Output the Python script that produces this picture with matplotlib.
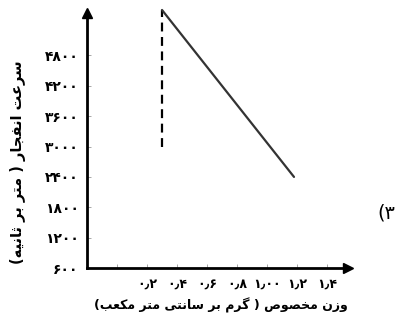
import matplotlib
matplotlib.use('Agg')
import matplotlib.pyplot as plt

# داده‌ها
y_ticks = [600, 1200, 1800, 2400, 3000, 3600, 4200, 4800]
y_tick_labels = ['۶۰۰', '۱۲۰۰', '۱۸۰۰', '۲۴۰۰', '۳۰۰۰', '۳۶۰۰', '۴۲۰۰', '۴۸۰۰']
x_ticks = [0.0, 0.2, 0.4, 0.6, 0.8, 1.0, 1.2, 1.4]
x_tick_labels = ['', '۰٫۲', '۰٫۴', '۰٫۶', '۰٫۸', '۱٫۰۰', '۱٫۲', '۱٫۴']
dash_x = [0.3, 0.3]
dash_y = [3000, 5700]
line_x = [0.3, 1.18]
line_y = [5700, 2400]

x_label = 'وزن مخصوص ( گرم بر سانتی متر مکعب)'
y_label = 'سرعت انفجار ( متر بر ثانیه)'
item_label = '۳)'

# شکل‌های حروف: جدا، پایانی، آغازی، میانی
FORMS = {
    'ا': ('\uFE8D', '\uFE8E', None, None),
    'ب': ('\uFE8F', '\uFE90', '\uFE91', '\uFE92'),
    'ت': ('\uFE95', '\uFE96', '\uFE97', '\uFE98'),
    'ث': ('\uFE99', '\uFE9A', '\uFE9B', '\uFE9C'),
    'ج': ('\uFE9D', '\uFE9E', '\uFE9F', '\uFEA0'),
    'خ': ('\uFEA5', '\uFEA6', '\uFEA7', '\uFEA8'),
    'ر': ('\uFEAD', '\uFEAE', None, None),
    'ز': ('\uFEAF', '\uFEB0', None, None),
    'س': ('\uFEB1', '\uFEB2', '\uFEB3', '\uFEB4'),
    'ص': ('\uFEB9', '\uFEBA', '\uFEBB', '\uFEBC'),
    'ع': ('\uFEC9', '\uFECA', '\uFECB', '\uFECC'),
    'ف': ('\uFED1', '\uFED2', '\uFED3', '\uFED4'),
    'م': ('\uFEE1', '\uFEE2', '\uFEE3', '\uFEE4'),
    'ن': ('\uFEE5', '\uFEE6', '\uFEE7', '\uFEE8'),
    'ه': ('\uFEE9', '\uFEEA', '\uFEEB', '\uFEEC'),
    'و': ('\uFEED', '\uFEEE', None, None),
    'ک': ('\uFB8E', '\uFB8F', '\uFB90', '\uFB91'),
    'گ': ('\uFB92', '\uFB93', '\uFB94', '\uFB95'),
    'ی': ('\uFBFC', '\uFBFD', '\uFBFE', '\uFBFF'),
}


def rtl(text):
    # اتصال حروف و ترتیب راست به چپ
    out = []
    for i, ch in enumerate(text):
        if ch not in FORMS:
            out.append(ch)
            continue
        prev = text[i - 1] if i > 0 else ''
        nxt = text[i + 1] if i + 1 < len(text) else ''
        join_prev = prev in FORMS and FORMS[prev][2] is not None
        join_next = FORMS[ch][2] is not None and nxt in FORMS
        iso, fin, ini, med = FORMS[ch]
        if join_prev and join_next:
            out.append(med)
        elif join_prev:
            out.append(fin)
        elif join_next:
            out.append(ini)
        else:
            out.append(iso)
    s = ''.join(out)[::-1]
    return s.translate(str.maketrans('()', ')('))


plt.rcParams['font.family'] = ['DejaVu Sans']

fig = plt.figure(figsize=(4.08, 3.27), dpi=100)
ax = fig.add_axes([87 / 408, 59 / 327, 261 / 408, 255 / 327])
ax.set_xlim(-0.2, 1.54)
ax.set_ylim(600, 5640)

ax.plot(dash_x, dash_y, color='black', lw=1.6, ls=(0, (4, 2.5)), clip_on=False)
ax.plot(line_x, line_y, color='#333333', lw=1.6, solid_capstyle='round', clip_on=False)

for side in ['top', 'right']:
    ax.spines[side].set_visible(False)
for side in ['left', 'bottom']:
    ax.spines[side].set_linewidth(2)

# فلش محورها
ax.plot(1, 0, '>', color='black', ms=7, transform=ax.transAxes, clip_on=False)
ax.plot(0, 1, '^', color='black', ms=7, transform=ax.transAxes, clip_on=False)

ax.set_xticks(x_ticks)
ax.set_xticklabels(x_tick_labels, fontsize=9, fontweight='bold')
ax.set_yticks(y_ticks)
ax.set_yticklabels(y_tick_labels, fontsize=10, fontweight='bold')
ax.tick_params(direction='in', length=3, width=0.6, color='#999999')
ax.tick_params(axis='x', pad=7)
ax.tick_params(axis='y', pad=6)

fig.text(221 / 408, 1 - 305 / 327, rtl(x_label), ha='center', va='center',
         fontsize=9, fontweight='bold')
fig.text(18 / 408, 1 - 162 / 327, rtl(y_label), ha='center', va='center',
         fontsize=10.5, fontweight='bold', rotation=90)
fig.text(386 / 408, 1 - 213 / 327, rtl(item_label), ha='center', va='center',
         fontsize=14)

fig.savefig('out.png', dpi=100)
